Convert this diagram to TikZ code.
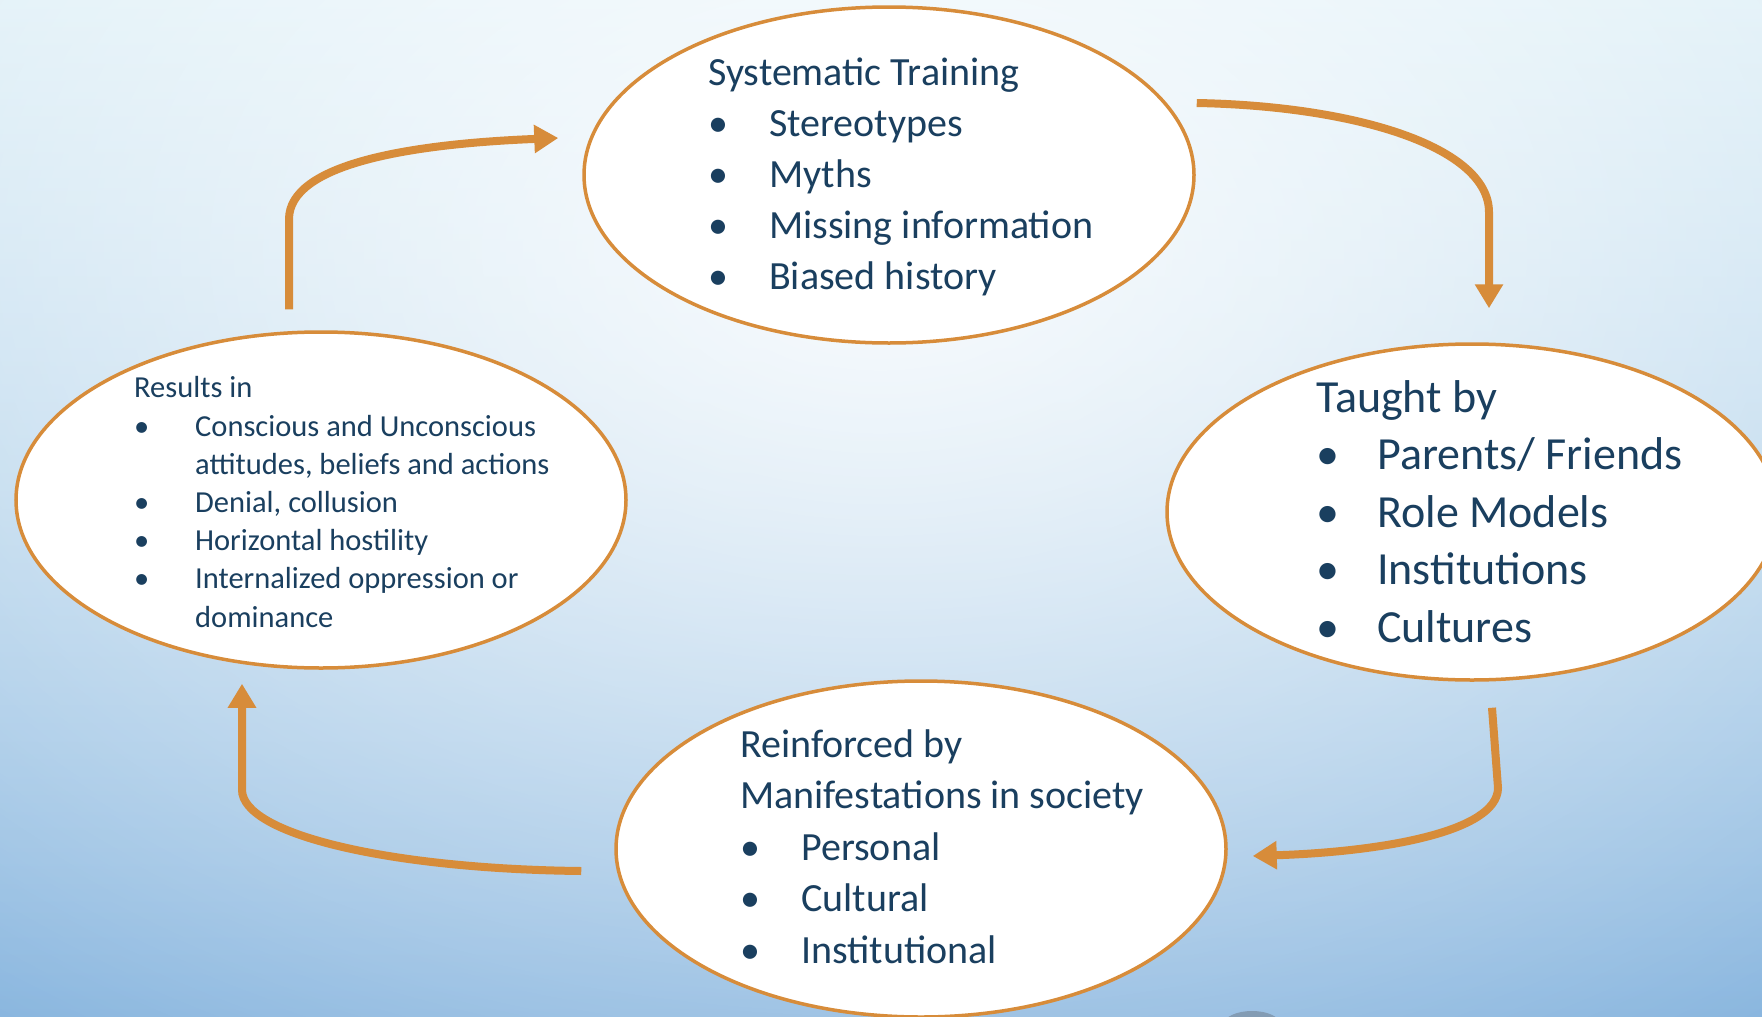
\documentclass[tikz,border=0pt]{standalone}
\usepackage{fontspec}
\setmainfont{Carlito}
\usetikzlibrary{shapes.geometric,arrows.meta,fadings}
\definecolor{ringorange}{HTML}{D78C3A}
\definecolor{inknavy}{HTML}{1A3F5F}
\definecolor{skytop}{HTML}{D9EDF6}
\definecolor{skymid}{HTML}{C2DCEE}
\definecolor{skybot}{HTML}{86B4DE}
\tikzfading[name=glowfade,inner color=transparent!0,outer color=transparent!100]
\tikzset{%
    bubble/.style={ellipse,draw=ringorange,line width=3.5pt,fill=white,
        minimum width=610pt,minimum height=336pt,inner sep=0pt},
    txt/.style={anchor=base west,align=left,text=inknavy,inner sep=0pt},
    flow/.style={draw=ringorange,line width=8pt,-{Triangle[length=24pt,width=27pt]}}
}
\newcommand{\bul}{\makebox[61pt][l]{\textbullet}}
\newcommand{\indt}{\makebox[61pt]{}}

\begin{document}
\begin{tikzpicture}[x=1pt,y=-1pt]
        \clip (0,0) rectangle (1762,1017);
        \shade[top color=skytop,middle color=skymid,bottom color=skybot] (0,0) rectangle (1762,1017);
        \fill[white,opacity=.9,path fading=glowfade] (880,250) ellipse (1500 and 1000);
        \fill[gray!45!skybot] (1252,1024) ellipse (28 and 13);
        % the four stages
        \node[bubble] (sys) at (889,175){};
        \node[bubble] (taught) at (1472,512){};
        \node[bubble] (reinf) at (921,849){};
        \node[bubble] (results) at (321,500){};
        % texts, placed by the baseline of their last line
        \node[txt,font=\fontsize{40}{51}\selectfont] (sysText) at (708,289)
            {Systematic Training\\ \bul Stereotypes\\ \bul Myths\\ \bul Missing information\\ \bul Biased history};
        \node[txt,font=\fontsize{46}{57.5}\selectfont] (taughtText) at (1316,642)
            {Taught by\\ \bul Parents/ Friends\\ \bul Role Models\\ \bul Institutions\\ \bul Cultures};
        \node[txt,font=\fontsize{40}{51.5}\selectfont] (reinfText) at (740,963)
            {Reinforced by\\ Manifestations in society\\ \bul Personal\\ \bul Cultural\\ \bul Institutional};
        \node[txt,font=\fontsize{30.5}{38.2}\selectfont] (resultsText) at (134,627)
            {Results in\\ \bul Conscious and Unconscious\\ \indt attitudes, beliefs and actions\\
             \bul Denial, collusion\\ \bul Horizontal hostility\\ \bul Internalized oppression or\\ \indt dominance};
        % cycle arrows
        \draw[flow] ([shift={(-32,-21)}]results.north) -- ++(0,-90)
            .. controls +(0,-55) and +(-150,6) .. ([shift={(-24,-37)}]sys.west);
        \draw[flow] ([shift={(1,-72)}]sys.east) .. controls +(160,3) and +(0,-65) .. ([shift={(17,-130)}]taught.north)
            -- ([shift={(17,-34)}]taught.north);
        \draw[flow] ([shift={(20,26)}]taught.south) -- ++(6,80)
            .. controls +(0,45) and +(125,-4) .. ([shift={(25,7)}]reinf.east);
        \draw[flow] ([shift={(-33,22)}]reinf.west) .. controls +(-190,-2) and +(0,45) .. ([shift={(-79,120)}]results.south)
            -- ([shift={(-79,14)}]results.south);
    \end{tikzpicture}
\end{document}
